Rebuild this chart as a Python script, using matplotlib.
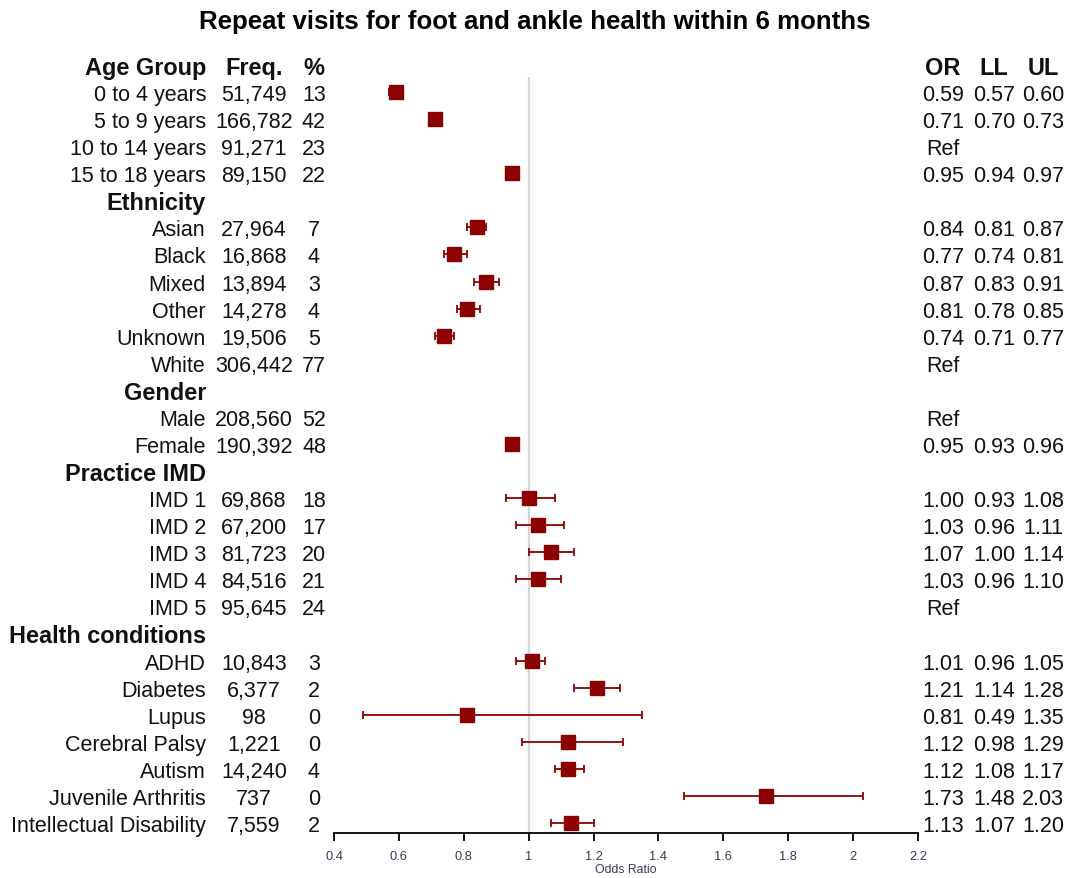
import matplotlib
matplotlib.use('Agg')
import matplotlib.pyplot as plt
import matplotlib.transforms as mtransforms

plt.rcParams['font.family'] = ['Liberation Sans', 'DejaVu Sans']

# groups and rows of the table
sections = ['Age Group', 'Ethnicity', 'Gender', 'Practice IMD', 'Health conditions']
categories = [
    ['0 to 4 years', '5 to 9 years', '10 to 14 years', '15 to 18 years'],
    ['Asian', 'Black', 'Mixed', 'Other', 'Unknown', 'White'],
    ['Male', 'Female'],
    ['IMD 1', 'IMD 2', 'IMD 3', 'IMD 4', 'IMD 5'],
    ['ADHD', 'Diabetes', 'Lupus', 'Cerebral Palsy', 'Autism',
     'Juvenile Arthritis', 'Intellectual Disability'],
]
freq = [
    [51749, 166782, 91271, 89150],
    [27964, 16868, 13894, 14278, 19506, 306442],
    [208560, 190392],
    [69868, 67200, 81723, 84516, 95645],
    [10843, 6377, 98, 1221, 14240, 737, 7559],
]
pct = [
    [13, 42, 23, 22],
    [7, 4, 3, 4, 5, 77],
    [52, 48],
    [18, 17, 20, 21, 24],
    [3, 2, 0, 0, 4, 0, 2],
]
# None = reference category
odds = [
    [0.59, 0.71, None, 0.95],
    [0.84, 0.77, 0.87, 0.81, 0.74, None],
    [None, 0.95],
    [1.00, 1.03, 1.07, 1.03, None],
    [1.01, 1.21, 0.81, 1.12, 1.12, 1.73, 1.13],
]
lower = [
    [0.57, 0.70, None, 0.94],
    [0.81, 0.74, 0.83, 0.78, 0.71, None],
    [None, 0.93],
    [0.93, 0.96, 1.00, 0.96, None],
    [0.96, 1.14, 0.49, 0.98, 1.08, 1.48, 1.07],
]
upper = [
    [0.60, 0.73, None, 0.97],
    [0.87, 0.81, 0.91, 0.85, 0.77, None],
    [None, 0.96],
    [1.08, 1.11, 1.14, 1.10, None],
    [1.05, 1.28, 1.35, 1.29, 1.17, 2.03, 1.20],
]
xticks = [0.4, 0.6, 0.8, 1.0, 1.2, 1.4, 1.6, 1.8, 2.0, 2.2]

W, H = 1070, 879
fig = plt.figure(figsize=(W / 100, H / 100), dpi=100)

row_h = 27.07
row0 = 66.0
ax_top, ax_bot = 78, 834
ax_l, ax_r = 334, 918
ax = fig.add_axes([ax_l / W, 1 - ax_bot / H, (ax_r - ax_l) / W, (ax_bot - ax_top) / H])
ax.set_xlim(0.4, 2.2)
ax.set_ylim((ax_bot - row0) / row_h, (ax_top - row0) / row_h)

# text columns: x in figure pixels, y in row units
tr = mtransforms.blended_transform_factory(fig.transFigure, ax.transData)
def fx(px):
    return px / W

col_lab, col_freq, col_pct = 206, 254, 314
col_or, col_ll, col_ul = 943, 994, 1043
fs, fsh = 15.5, 16.9
dark = '#8b0000'

def put(px, y, s, ha='center', bold=False):
    ax.text(fx(px), y, s, transform=tr, ha=ha, va='center_baseline',
            fontsize=fsh if bold else fs,
            fontweight='bold' if bold else 'normal',
            color='#111111', clip_on=False)

put(col_freq, 0, 'Freq.', bold=True)
put(col_pct, 0, '%', bold=True)
put(col_or, 0, 'OR', bold=True)
put(col_ll, 0, 'LL', bold=True)
put(col_ul, 0, 'UL', bold=True)

row = 0
for s, name in enumerate(sections):
    put(col_lab, row, name, ha='right', bold=True)
    row += 1
    for k, cat in enumerate(categories[s]):
        put(col_lab, row, cat, ha='right')
        put(col_freq, row, f'{freq[s][k]:,}')
        put(col_pct, row, str(pct[s][k]))
        o, lo, hi = odds[s][k], lower[s][k], upper[s][k]
        if o is None:
            put(col_or, row, 'Ref')
        else:
            put(col_or, row, f'{o:.2f}')
            put(col_ll, row, f'{lo:.2f}')
            put(col_ul, row, f'{hi:.2f}')
            ax.errorbar(o, row, xerr=[[o - lo], [hi - o]], fmt='none',
                        ecolor=dark, elinewidth=1.3, capsize=2.9,
                        capthick=1.3, zorder=2)
            ax.plot(o, row, marker='s', ms=10, color=dark, mec=dark,
                    ls='none', zorder=3)
        row += 1

ax.axvline(1, color='#d6d6d6', lw=1.6, zorder=0)

for side in ['left', 'right', 'top']:
    ax.spines[side].set_visible(False)
ax.spines['bottom'].set_linewidth(1.3)
ax.set_yticks([])
ax.set_xticks(xticks)
ax.set_xticklabels([f'{t:g}' for t in xticks])
ax.tick_params(axis='x', length=6, width=1.3, pad=6, labelsize=9.3,
               labelcolor='#3a3a55')
ax.set_xlabel('Odds Ratio', fontsize=8.8, color='#3a3a55', labelpad=1)

fig.text(0.5, 1 - 22 / H, 'Repeat visits for foot and ankle health within 6 months',
         ha='center', va='center', fontsize=18.6, fontweight='bold')

fig.savefig('out.png', dpi=100)
